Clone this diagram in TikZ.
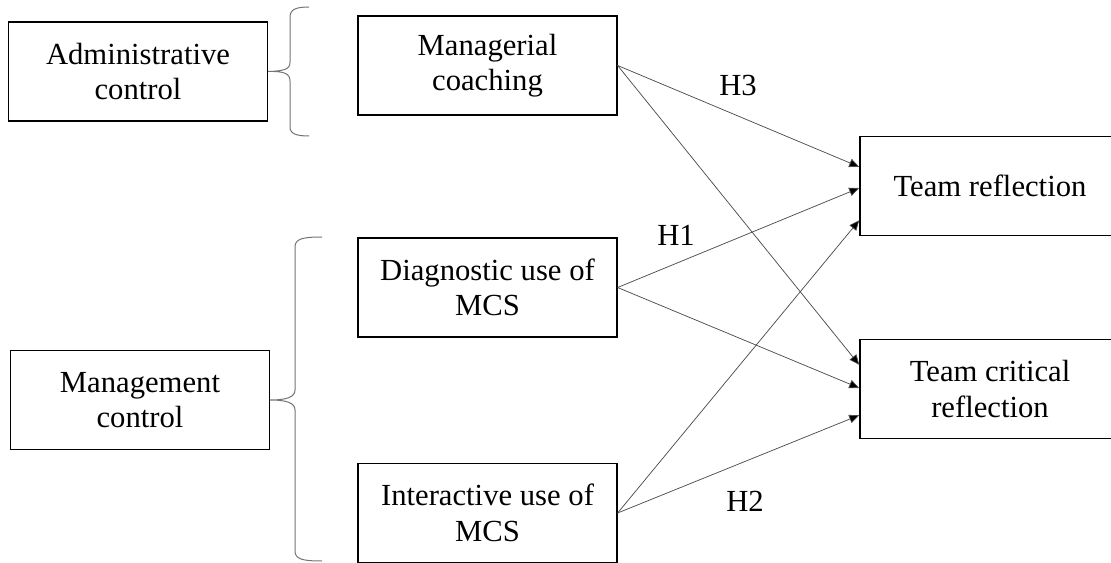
\documentclass[tikz,border=0pt]{standalone}
\usepackage{fontspec}
\setmainfont{Liberation Serif}
\usetikzlibrary{arrows.meta,calc}

\begin{document}
\begin{tikzpicture}[x=0.75pt,y=0.75pt,yscale=-1,xscale=1,
	box/.style={draw,line width=1.2pt,minimum width=194pt,minimum height=74.5pt,align=center,inner sep=0pt,font=\fontsize{23}{26.5}\selectfont},
	hyp/.style={-{Triangle[length=7.5pt,width=6.5pt,fill=black]},draw=black!70,line width=0.55pt},
	brc/.style={draw=black!55,line width=0.75pt},
	hlabel/.style={inner sep=0pt,font=\fontsize{23}{26.5}\selectfont}]
				\useasboundingbox (0,0) rectangle (1111,563);
				\clip (0,0) rectangle (1111,563);
				
				% Boxes
				\node [box] (admin) at (138,71.5) {Administrative\\control};
				\node [box] (mgmt) at (140,400) {Management\\control};
				\node [box] (coach) at (487.5,65.5) {Managerial\\coaching};
				\node [box] (diag) at (487.5,287.5) {Diagnostic use of\\MCS};
				\node [box] (inter) at (487.5,513) {Interactive use of\\MCS};
				\node [box,minimum width=195pt] (tr) at (990,186) {Team reflection};
				\node [box,minimum width=195pt] (tc) at (990,389) {Team critical\\reflection};
				
				%Shape: Brace (top)
				\draw [brc] (309,7) .. controls (297,7) and (290,9) .. (290,17) -- (290,62) .. controls (290,69) and (285,71) .. (admin.east) .. controls (285,71) and (290,74) .. (290,81) -- (290,127) .. controls (290,134) and (297,136) .. (309,136) ;
				%Shape: Brace (bottom)
				\draw [brc] (322,237) .. controls (302,237) and (295,239) .. (295,247) -- (295,390) .. controls (295,397) and (287,400) .. (mgmt.east) .. controls (287,400) and (295,403) .. (295,410) -- (295,551) .. controls (295,559) and (302,561) .. (322,561) ;
				
				% Arrow ends
				\coordinate (tr1) at ($(tr.north west)!0.31!(tr.south west)$);
				\coordinate (tr2) at ($(tr.north west)!0.52!(tr.south west)$);
				\coordinate (tr3) at ($(tr.north west)!0.84!(tr.south west)$);
				\coordinate (tc1) at ($(tc.north west)!0.26!(tc.south west)$);
				\coordinate (tc2) at ($(tc.north west)!0.49!(tc.south west)$);
				\coordinate (tc3) at ($(tc.north west)!0.76!(tc.south west)$);
				
				%Straight Lines
				\draw [hyp] (coach.east) -- (tr1);
				\draw [hyp] (coach.east) -- (tc1);
				\draw [hyp] (diag.east) -- (tr2);
				\draw [hyp] (diag.east) -- (tc2);
				\draw [hyp] (inter.east) -- (tr3);
				\draw [hyp] (inter.east) -- (tc3);
				
				% Text Node
				\node [hlabel] (h3) at (738,85) {H3};
				% Text Node
				\node [hlabel] (h1) at (676,235) {H1};
				% Text Node
				\node [hlabel] (h2) at (745,501) {H2};
				
\end{tikzpicture}
\end{document}
